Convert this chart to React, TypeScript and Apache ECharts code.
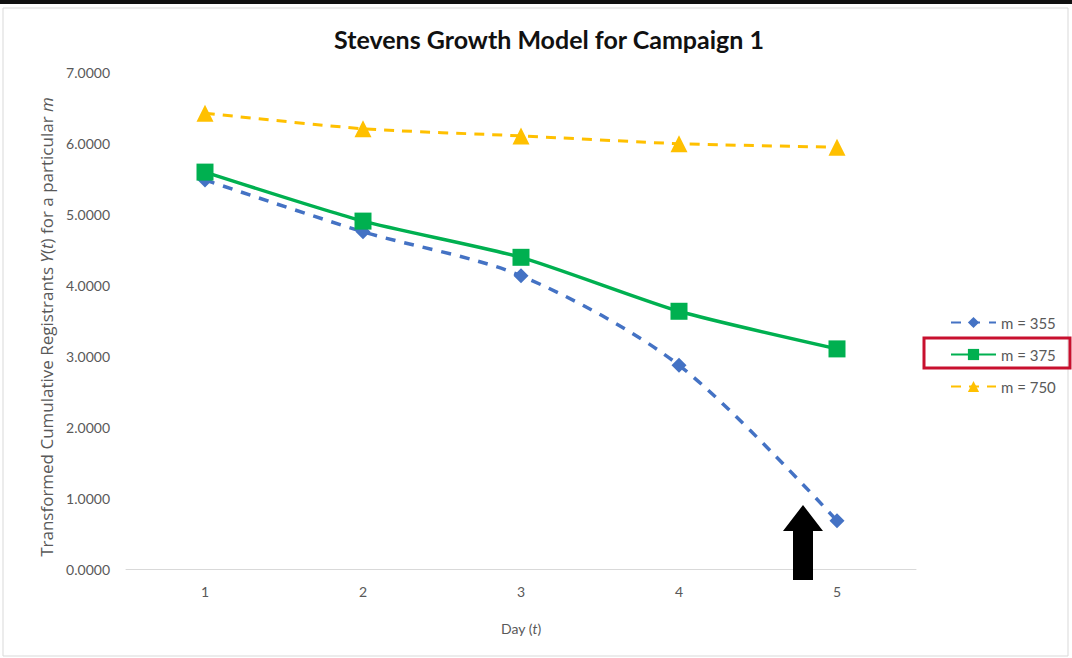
import React, { useEffect, useRef } from "react";
import * as echarts from "echarts";

const days = ["1", "2", "3", "4", "5"];
const m355 = [5.48, 4.75, 4.13, 2.87, 0.68];
const m375 = [5.59, 4.9, 4.39, 3.63, 3.1];
const m750 = [6.42, 6.2, 6.1, 5.99, 5.94];
const yTicks = { min: 0, max: 7, interval: 1 };

const FONT = "Lato, 'Open Sans', sans-serif";
const GRAY = "#595959";

export default function App() {
  const ref = useRef<HTMLDivElement>(null);
  useEffect(() => {
    document.body.style.margin = "0";
    const chart = echarts.init(ref.current!, null, { renderer: "svg" });
    chart.setOption({
      animation: false,
      backgroundColor: "#ffffff",
      title: {
        text: "Stevens Growth Model for Campaign 1",
        left: 544,
        textAlign: "center",
        top: 21,
        textStyle: { fontFamily: FONT, fontSize: 25, fontWeight: "bold", color: "#111" },
      },
      grid: { left: 126, right: 156, top: 72, bottom: 89 },
      legend: {
        orient: "vertical",
        left: 945,
        top: 310,
        itemWidth: 45,
        itemHeight: 14,
        itemGap: 17,
        textStyle: { fontFamily: FONT, fontSize: 15, color: GRAY },
        data: ["m = 355", "m = 375", "m = 750"],
      },
      xAxis: {
        type: "category",
        data: days,
        boundaryGap: true,
        axisLine: { lineStyle: { color: "#d9d9d9", width: 1 } },
        axisTick: { show: false },
        axisLabel: { color: GRAY, fontFamily: FONT, fontSize: 14, margin: 15 },
        name: "{n|Day (}{i|t}{n|)}",
        nameLocation: "middle",
        nameGap: 52,
        nameTextStyle: {
          rich: {
            n: { fontFamily: FONT, fontSize: 14, color: GRAY },
            i: { fontFamily: FONT, fontSize: 14, color: GRAY, fontStyle: "italic" },
          },
        },
      },
      yAxis: {
        type: "value",
        min: yTicks.min,
        max: yTicks.max,
        interval: yTicks.interval,
        splitLine: { show: false },
        axisLine: { show: false },
        axisTick: { show: false },
        axisLabel: {
          color: GRAY,
          fontFamily: FONT,
          fontSize: 14,
          margin: 16,
          formatter: (v: number) => v.toFixed(4),
        },
      },
      series: [
        {
          name: "m = 355",
          type: "line",
          data: m355,
          smooth: 0.3,
          symbol: "diamond",
          symbolSize: 15,
          lineStyle: { color: "#4472C4", width: 3.5, type: [10, 9] },
          itemStyle: { color: "#4472C4" },
          z: 2,
        },
        {
          name: "m = 375",
          type: "line",
          data: m375,
          smooth: 0.2,
          symbol: "rect",
          symbolSize: 17,
          lineStyle: { color: "#00B050", width: 3.5 },
          itemStyle: { color: "#00B050" },
          z: 3,
        },
        {
          name: "m = 750",
          type: "line",
          data: m750,
          smooth: 0.2,
          symbol: "triangle",
          symbolSize: 17,
          lineStyle: { color: "#FFC000", width: 3, type: [10, 8] },
          itemStyle: { color: "#FFC000" },
          z: 1,
        },
      ],
      graphic: [
        {
          type: "rect",
          shape: { x: 3, y: 8, width: 1065, height: 648 },
          style: { fill: "none", stroke: "#d9d9d9", lineWidth: 1 },
          silent: true,
        },
        {
          type: "rect",
          shape: { x: 0, y: 0, width: 1072, height: 4 },
          style: { fill: "#111" },
          silent: true,
        },
        {
          type: "text",
          x: 46,
          y: 327,
          rotation: Math.PI / 2,
          silent: true,
          style: {
            text: "{n|Transformed Cumulative Registrants }{i|Y}{n|(}{i|t}{n|) for a particular }{i|m}",
            align: "center",
            verticalAlign: "middle",
            rich: {
              n: { fontFamily: "'Open Sans', sans-serif", fontSize: 17, fill: GRAY },
              i: { fontFamily: "'Open Sans', sans-serif", fontSize: 17, fill: GRAY, fontStyle: "italic" },
            },
          },
        },
        {
          type: "rect",
          shape: { x: 924, y: 338, width: 146, height: 30 },
          style: { fill: "none", stroke: "#C8102E", lineWidth: 3 },
          silent: true,
        },
        {
          type: "polygon",
          shape: {
            points: [
              [793, 580],
              [793, 531],
              [783, 531],
              [803, 505],
              [823, 531],
              [813, 531],
              [813, 580],
            ],
          },
          style: { fill: "#000" },
          silent: true,
          z: 10,
        },
      ],
    });
    return () => chart.dispose();
  }, []);
  return <div ref={ref} style={{ width: 1072, height: 658 }} />;
}
